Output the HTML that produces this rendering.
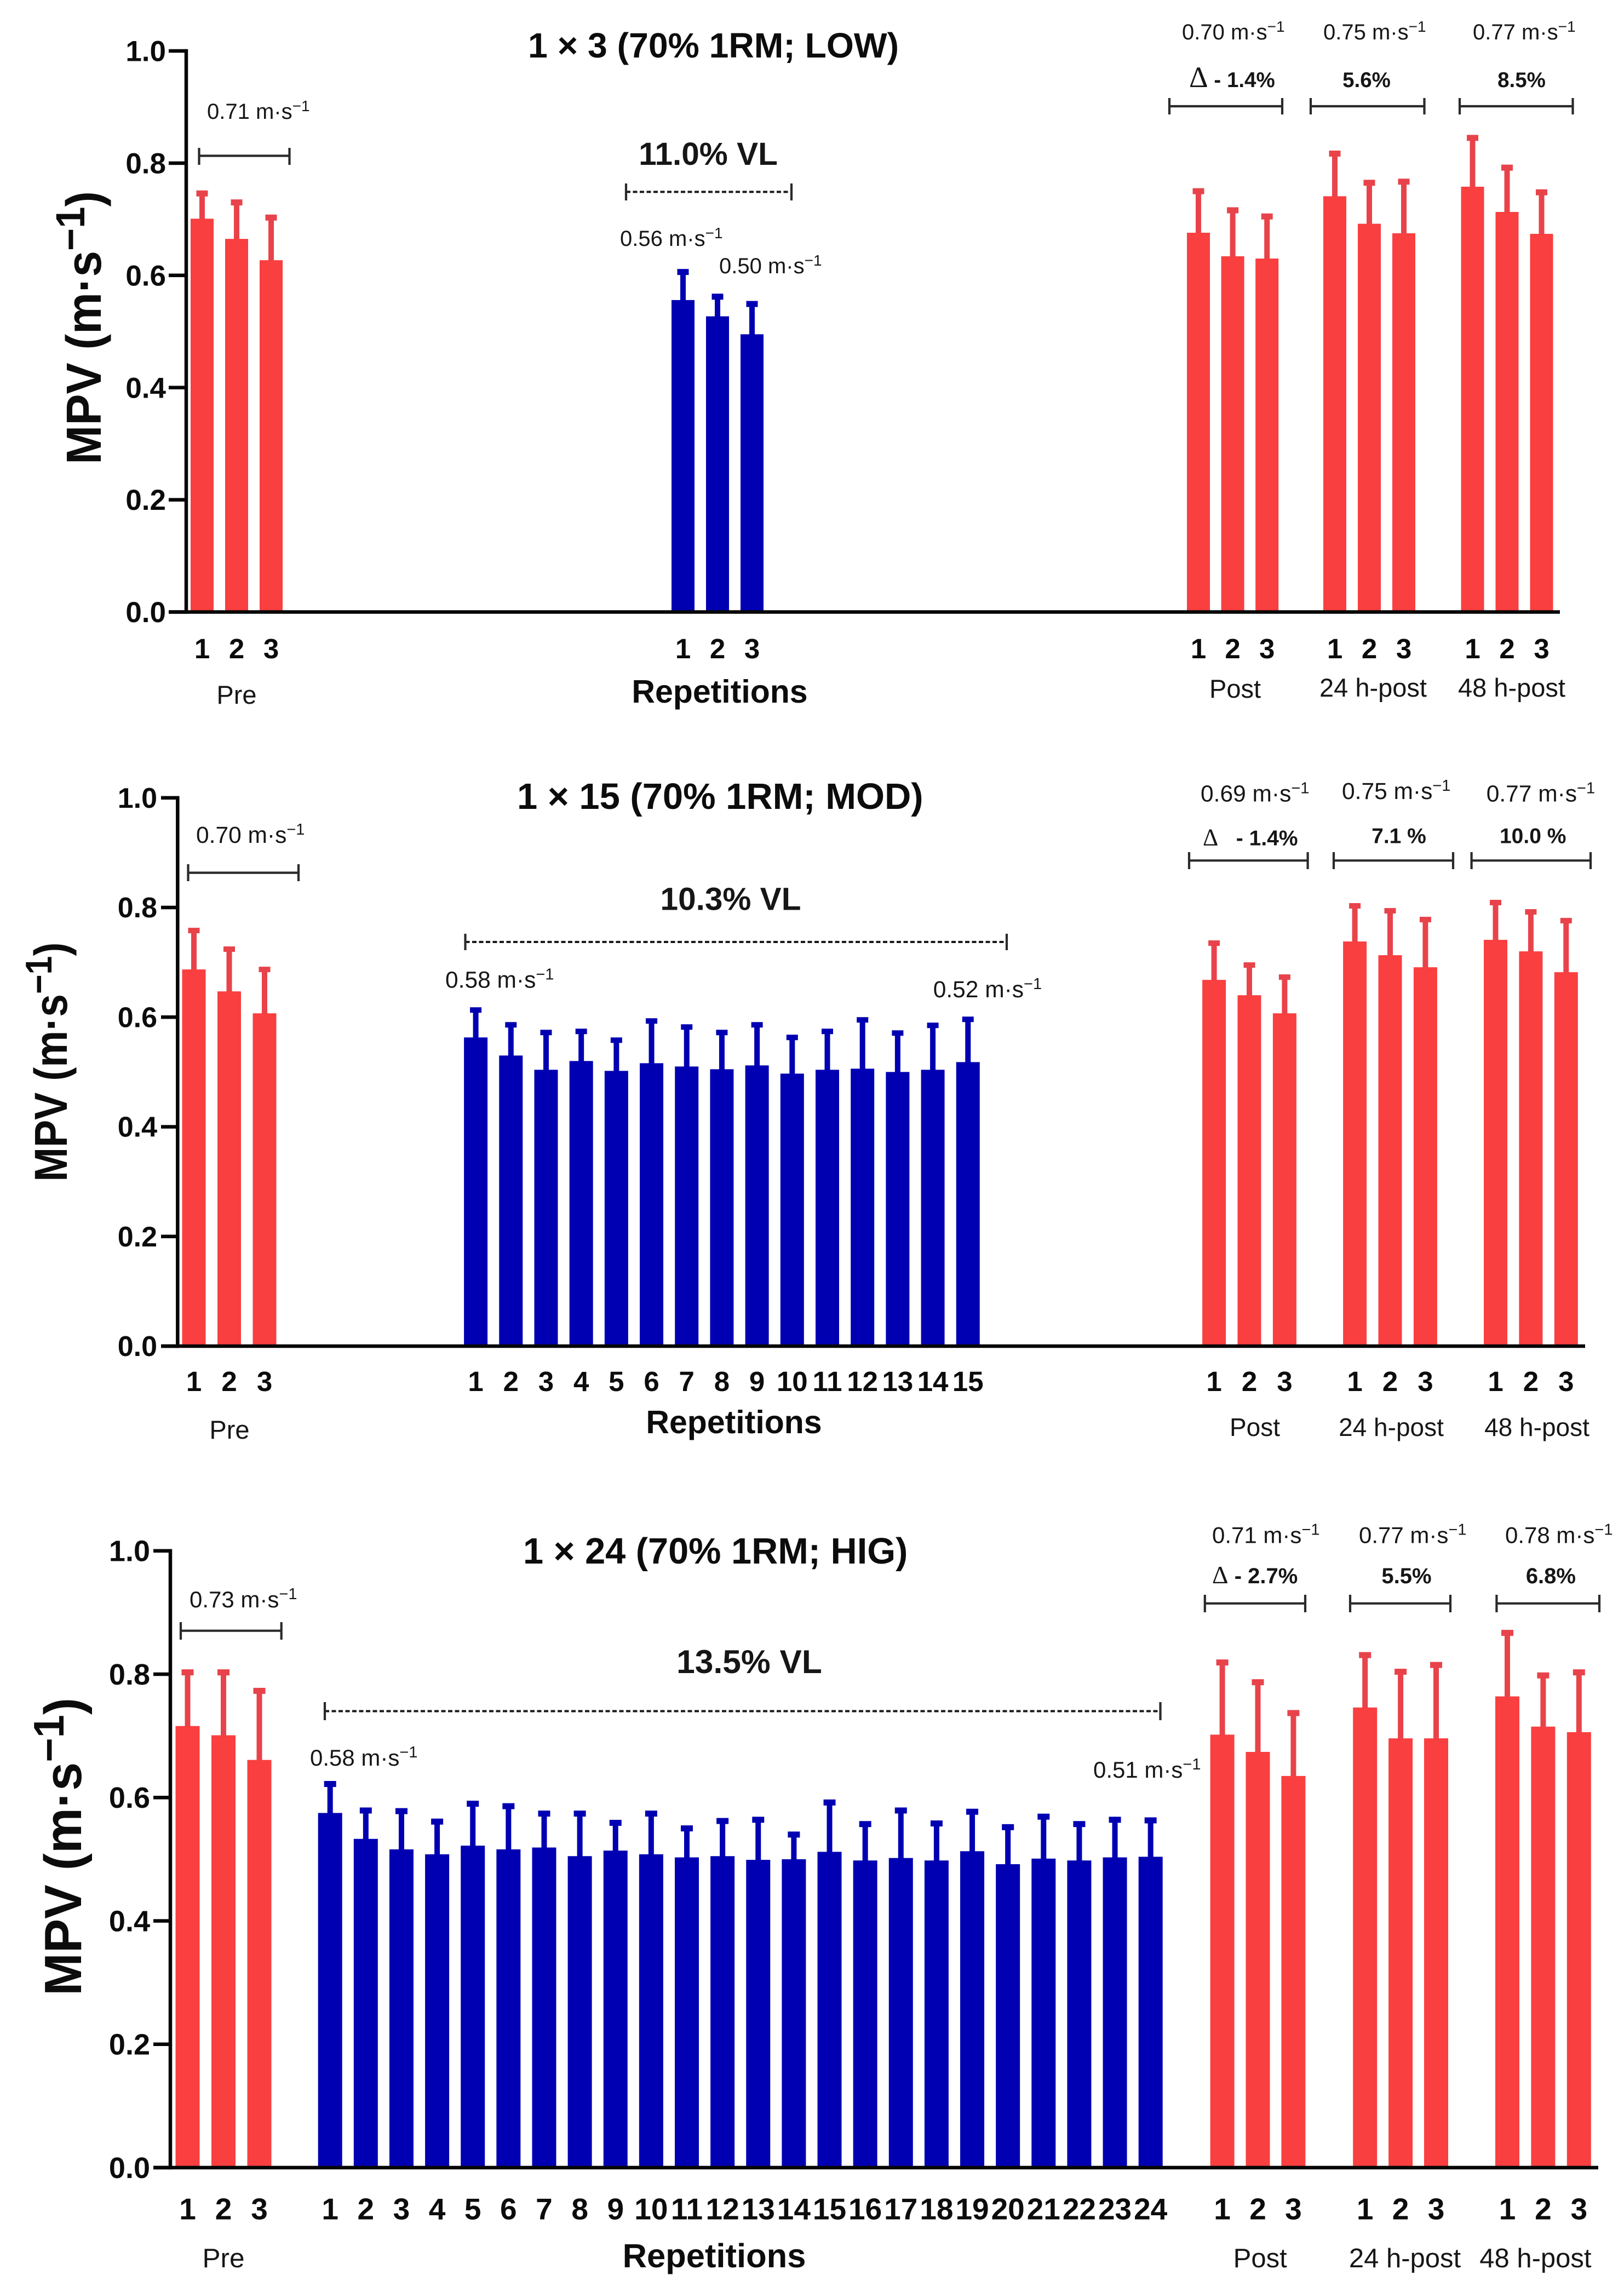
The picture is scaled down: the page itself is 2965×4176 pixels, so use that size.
<!DOCTYPE html>
<html lang="en">
<head>
<meta charset="utf-8">
<title>Mean propulsive velocity by protocol</title>
<style>
html,body{margin:0;padding:0;background:#fff}
svg{display:block}
text{font-family:"Liberation Sans",sans-serif;fill:#161616}
.t{font-weight:700;fill:#0c0c0c}
.b{font-weight:700}
.br{fill:none;stroke:#2a2a2a;stroke-width:4.2}
.dash{fill:none;stroke:#1a1a1a;stroke-width:4;stroke-dasharray:8 4.5}
.cap{fill:none;stroke:#2a2a2a;stroke-width:4.2}
</style>
</head>
<body>
<svg id="figure" width="2965" height="4176" viewBox="0 0 2965 4176" xmlns="http://www.w3.org/2000/svg">
<rect width="2965" height="4176" fill="#fff"/>

<!-- Panel 1 annotations -->
<g>
<text class="t" x="964" y="105" font-size="64.3">1 × 3 (70% 1RM; LOW)</text>
<text class="t" transform="translate(184 848) rotate(-90)" font-size="90" textLength="499" lengthAdjust="spacingAndGlyphs">MPV (m·s<tspan dy="-30" font-size="74">−1</tspan><tspan dy="30">)</tspan></text>
<text class="t" x="1314" y="1283" font-size="59" text-anchor="middle">Repetitions</text>
<text x="432" y="1285" font-size="47" text-anchor="middle">Pre</text>
<text x="2255" y="1274" font-size="47" text-anchor="middle">Post</text>
<text x="2507" y="1272" font-size="47" text-anchor="middle">24 h-post</text>
<text x="2760" y="1272" font-size="47" text-anchor="middle">48 h-post</text>
<text x="378" y="217" font-size="40">0.71 m·s<tspan dy="-14" font-size="28">−1</tspan></text>
<path class="br" d="M363.5 270V301M363.5 284.5H528.5M528.5 270V301"/>
<text class="b" x="1293" y="301" font-size="58.5" text-anchor="middle">11.0% VL</text>
<line class="dash" x1="1143" y1="350.4" x2="1445" y2="350.4"/>
<path class="cap" d="M1143 335V366M1445 335V366"/>
<text x="1132" y="449" font-size="40">0.56 m·s<tspan dy="-14" font-size="28">−1</tspan></text>
<text x="1313" y="499" font-size="40">0.50 m·s<tspan dy="-14" font-size="28">−1</tspan></text>
<text x="2158" y="72" font-size="40">0.70 m·s<tspan dy="-14" font-size="28">−1</tspan></text>
<text x="2416" y="72" font-size="40">0.75 m·s<tspan dy="-14" font-size="28">−1</tspan></text>
<text x="2689" y="72" font-size="40">0.77 m·s<tspan dy="-14" font-size="28">−1</tspan></text>
<text class="b" x="2171" y="159" font-size="38.5"><tspan font-family="Liberation Serif" font-weight="400" font-size="54">Δ</tspan> - 1.4%</text>
<text class="b" x="2495" y="159" font-size="38.5" text-anchor="middle">5.6%</text>
<text class="b" x="2778" y="159" font-size="38.5" text-anchor="middle">8.5%</text>
<path class="br" d="M2135 179V209M2135 194H2341M2341 179V209"/>
<path class="br" d="M2393 179V209M2393 194H2600.5M2600.5 179V209"/>
<path class="br" d="M2665 179V209M2665 194H2871.5M2871.5 179V209"/>
</g>

<!-- Panel 2 annotations -->
<g>
<text class="t" x="944" y="1477" font-size="66.9">1 × 15 (70% 1RM; MOD)</text>
<text class="t" transform="translate(122 2157.6) rotate(-90)" font-size="84" textLength="437" lengthAdjust="spacingAndGlyphs">MPV (m·s<tspan dy="-28" font-size="68">−1</tspan><tspan dy="28">)</tspan></text>
<text class="t" x="1340" y="2617" font-size="59" text-anchor="middle">Repetitions</text>
<text x="419" y="2627" font-size="47" text-anchor="middle">Pre</text>
<text x="2291" y="2622" font-size="46" text-anchor="middle">Post</text>
<text x="2540" y="2622" font-size="46" text-anchor="middle">24 h-post</text>
<text x="2806" y="2622" font-size="46" text-anchor="middle">48 h-post</text>
<text x="358" y="1539" font-size="42.5">0.70 m·s<tspan dy="-15" font-size="29">−1</tspan></text>
<path class="br" d="M343.5 1578V1609M343.5 1593.6H545M545 1578V1609"/>
<text class="b" x="1334" y="1661.7" font-size="58.5" text-anchor="middle">10.3% VL</text>
<line class="dash" x1="849.5" y1="1720" x2="1838" y2="1720"/>
<path class="cap" d="M849.5 1705V1735M1838 1705V1735"/>
<text x="813" y="1803.7" font-size="42.5">0.58 m·s<tspan dy="-15" font-size="29">−1</tspan></text>
<text x="1703.7" y="1821" font-size="42.5">0.52 m·s<tspan dy="-15" font-size="29">−1</tspan></text>
<text x="2192" y="1463.6" font-size="42.5">0.69 m·s<tspan dy="-15" font-size="29">−1</tspan></text>
<text x="2450" y="1459" font-size="42.5">0.75 m·s<tspan dy="-15" font-size="29">−1</tspan></text>
<text x="2713.7" y="1463.6" font-size="42.5">0.77 m·s<tspan dy="-15" font-size="29">−1</tspan></text>
<text class="b" x="2196" y="1543.7" font-size="39" xml:space="preserve"><tspan font-family="Liberation Serif" font-weight="400" font-size="44">Δ</tspan>   - 1.4%</text>
<text class="b" x="2554" y="1539.4" font-size="39" text-anchor="middle">7.1 %</text>
<text class="b" x="2798.7" y="1539.4" font-size="39" text-anchor="middle">10.0 %</text>
<path class="br" d="M2171 1556V1587M2171 1571.3H2387.6M2387.6 1556V1587"/>
<path class="br" d="M2435 1556V1587M2435 1571.3H2653M2653 1556V1587"/>
<path class="br" d="M2686.6 1556V1587M2686.6 1571.3H2904M2904 1556V1587"/>
</g>

<!-- Panel 3 annotations -->
<g>
<text class="t" x="955" y="2855" font-size="66.7">1 × 24 (70% 1RM; HIG)</text>
<text class="t" transform="translate(148 3644) rotate(-90)" font-size="96" textLength="544" lengthAdjust="spacingAndGlyphs">MPV (m·s<tspan dy="-32" font-size="78">−1</tspan><tspan dy="32">)</tspan></text>
<text class="t" x="1304" y="4140" font-size="61.5" text-anchor="middle">Repetitions</text>
<text x="408" y="4140" font-size="49.5" text-anchor="middle">Pre</text>
<text x="2300.7" y="4140" font-size="49" text-anchor="middle">Post</text>
<text x="2565" y="4140" font-size="49" text-anchor="middle">24 h-post</text>
<text x="2803.4" y="4140" font-size="49" text-anchor="middle">48 h-post</text>
<text x="346" y="2935" font-size="42">0.73 m·s<tspan dy="-15" font-size="29">−1</tspan></text>
<path class="br" d="M330 2962V2994M330 2977.7H513.7M513.7 2962V2994"/>
<text class="b" x="1368" y="3055" font-size="60.5" text-anchor="middle">13.5% VL</text>
<line class="dash" x1="593" y1="3124.5" x2="2118.5" y2="3124.5"/>
<path class="cap" d="M593 3108V3141M2118.5 3108V3141"/>
<text x="566" y="3224" font-size="42">0.58 m·s<tspan dy="-15" font-size="29">−1</tspan></text>
<text x="1996" y="3246" font-size="42">0.51 m·s<tspan dy="-15" font-size="29">−1</tspan></text>
<text x="2213" y="2817.7" font-size="42">0.71 m·s<tspan dy="-15" font-size="29">−1</tspan></text>
<text x="2481" y="2817.7" font-size="42">0.77 m·s<tspan dy="-15" font-size="29">−1</tspan></text>
<text x="2748" y="2817.7" font-size="42">0.78 m·s<tspan dy="-15" font-size="29">−1</tspan></text>
<text class="b" x="2213" y="2891" font-size="40"><tspan font-family="Liberation Serif" font-weight="400" font-size="46">Δ</tspan> - 2.7%</text>
<text class="b" x="2568" y="2891" font-size="40" text-anchor="middle">5.5%</text>
<text class="b" x="2831.4" y="2891" font-size="40" text-anchor="middle">6.8%</text>
<path class="br" d="M2199.8 2912V2944M2199.8 2927.8H2383M2383 2912V2944"/>
<path class="br" d="M2465 2912V2944M2465 2927.8H2648M2648 2912V2944"/>
<path class="br" d="M2732.4 2912V2944M2732.4 2927.8H2920M2920 2912V2944"/>
</g>
</svg>

<script>
// ---------- data ----------
const yTickValues = [0, 0.2, 0.4, 0.6, 0.8, 1.0];
const yTickLabels = ['0.0', '0.2', '0.4', '0.6', '0.8', '1.0'];
const setLabels = ['1', '2', '3'];
const rep15Labels = ['1','2','3','4','5','6','7','8','9','10','11','12','13','14','15'];
const rep24Labels = ['1','2','3','4','5','6','7','8','9','10','11','12','13','14','15','16','17','18','19','20','21','22','23','24'];

// LOW (1 x 3)
const lowPreMean = [0.701, 0.665, 0.627];
const lowPreUpper = [0.746, 0.730, 0.703];
const lowRepMean = [0.556, 0.527, 0.495];
const lowRepUpper = [0.606, 0.562, 0.549];
const lowPostMean = [0.676, 0.634, 0.630];
const lowPostUpper = [0.750, 0.716, 0.705];
const low24Mean = [0.741, 0.692, 0.675];
const low24Upper = [0.817, 0.765, 0.767];
const low48Mean = [0.758, 0.713, 0.674];
const low48Upper = [0.845, 0.792, 0.748];

// MOD (1 x 15)
const modPreMean = [0.687, 0.647, 0.607];
const modPreUpper = [0.758, 0.724, 0.687];
const modRepMean = [0.563, 0.530, 0.504, 0.520, 0.502, 0.516, 0.510, 0.505, 0.512, 0.497, 0.504, 0.506, 0.500, 0.504, 0.518];
const modRepUpper = [0.613, 0.586, 0.572, 0.574, 0.558, 0.593, 0.582, 0.572, 0.586, 0.563, 0.574, 0.595, 0.571, 0.585, 0.596];
const modPostMean = [0.668, 0.640, 0.607];
const modPostUpper = [0.735, 0.695, 0.673];
const mod24Mean = [0.738, 0.713, 0.691];
const mod24Upper = [0.803, 0.794, 0.778];
const mod48Mean = [0.741, 0.720, 0.682];
const mod48Upper = [0.809, 0.792, 0.776];

// HIG (1 x 24)
const higPreMean = [0.716, 0.701, 0.661];
const higPreUpper = [0.803, 0.803, 0.773];
const higRepMean = [0.575, 0.533, 0.516, 0.508, 0.522, 0.516, 0.519, 0.505, 0.514, 0.508, 0.503, 0.505, 0.499, 0.500, 0.512, 0.498, 0.502, 0.498, 0.513, 0.492, 0.501, 0.498, 0.503, 0.504];
const higRepUpper = [0.622, 0.579, 0.578, 0.561, 0.590, 0.586, 0.574, 0.574, 0.559, 0.574, 0.550, 0.562, 0.564, 0.540, 0.592, 0.557, 0.579, 0.558, 0.577, 0.552, 0.569, 0.557, 0.564, 0.563];
const higPostMean = [0.702, 0.674, 0.635];
const higPostUpper = [0.819, 0.787, 0.737];
const hig24Mean = [0.746, 0.696, 0.696];
const hig24Upper = [0.831, 0.804, 0.815];
const hig48Mean = [0.764, 0.715, 0.706];
const hig48Upper = [0.867, 0.798, 0.803];

// ---------- layout ----------
const RED = '#f93f40';
const RED_ERR = '#e8434a';
const BLUE = '#0000b2';
const SVG_NS = 'http://www.w3.org/2000/svg';
const figure = document.getElementById('figure');

const panels = [
  { id:'low', axisX:340, axisEnd:2848, tickStart:308, yTop:93, yBase:1117.5, labelRight:303, tickFont:53, numY:1202, numFont:51, barW:42, stem:10, capW:21, capH:11,
    groups:[
      { id:'pre', mean:lowPreMean, upper:lowPreUpper, labels:setLabels, color:RED, errColor:RED_ERR, x0:369, step:63 },
      { id:'rep', mean:lowRepMean, upper:lowRepUpper, labels:setLabels, color:BLUE, errColor:BLUE, x0:1247, step:63 },
      { id:'post', mean:lowPostMean, upper:lowPostUpper, labels:setLabels, color:RED, errColor:RED_ERR, x0:2188, step:62.6 },
      { id:'24h', mean:low24Mean, upper:low24Upper, labels:setLabels, color:RED, errColor:RED_ERR, x0:2437, step:63 },
      { id:'48h', mean:low48Mean, upper:low48Upper, labels:setLabels, color:RED, errColor:RED_ERR, x0:2688.5, step:63 }
    ] },
  { id:'mod', axisX:324.3, axisEnd:2894, tickStart:294, yTop:1456.8, yBase:2458, labelRight:287, tickFont:52, numY:2540, numFont:51, barW:43, stem:10, capW:21, capH:10,
    groups:[
      { id:'pre', mean:modPreMean, upper:modPreUpper, labels:setLabels, color:RED, errColor:RED_ERR, x0:354, step:64.5 },
      { id:'rep', mean:modRepMean, upper:modRepUpper, labels:rep15Labels, color:BLUE, errColor:BLUE, x0:868.6, step:64.19 },
      { id:'post', mean:modPostMean, upper:modPostUpper, labels:setLabels, color:RED, errColor:RED_ERR, x0:2216.6, step:64.4 },
      { id:'24h', mean:mod24Mean, upper:mod24Upper, labels:setLabels, color:RED, errColor:RED_ERR, x0:2473.6, step:64.4 },
      { id:'48h', mean:mod48Mean, upper:mod48Upper, labels:setLabels, color:RED, errColor:RED_ERR, x0:2730.5, step:64.4 }
    ] },
  { id:'hig', axisX:311, axisEnd:2918, tickStart:280, yTop:2831.8, yBase:3958, labelRight:274, tickFont:54, numY:4052.7, numFont:55, barW:44, stem:10, capW:22, capH:11,
    groups:[
      { id:'pre', mean:higPreMean, upper:higPreUpper, labels:setLabels, color:RED, errColor:RED_ERR, x0:342.5, step:65.5 },
      { id:'rep', mean:higRepMean, upper:higRepUpper, labels:rep24Labels, color:BLUE, errColor:BLUE, x0:602.7, step:65.13 },
      { id:'post', mean:higPostMean, upper:higPostUpper, labels:setLabels, color:RED, errColor:RED_ERR, x0:2231.6, step:64.9 },
      { id:'24h', mean:hig24Mean, upper:hig24Upper, labels:setLabels, color:RED, errColor:RED_ERR, x0:2492.2, step:64.9 },
      { id:'48h', mean:hig48Mean, upper:hig48Upper, labels:setLabels, color:RED, errColor:RED_ERR, x0:2752, step:65.4 }
    ] }
];

function shape(tag, parent) {
  const el = document.createElementNS(SVG_NS, tag);
  parent.appendChild(el);
  return el;
}

function drawRect(parent, x, y, w, h, fill) {
  const r = shape('rect', parent);
  r.setAttribute('x', x);
  r.setAttribute('y', y);
  r.setAttribute('width', w);
  r.setAttribute('height', h);
  r.setAttribute('fill', fill);
  return r;
}

function drawPanel(p) {
  const yScale = v => p.yBase + (p.yTop - p.yBase) * v;

  const layer = shape('g', figure);
  
  

  // bars and error bars
  p.groups.forEach(g => {
    const xScale = i => g.x0 + i * g.step;
    g.mean.forEach((v, i) => {
      const cx = xScale(i);
      const top = yScale(v);
      const errTop = yScale(g.upper[i]);

      const stem = drawRect(layer, cx - p.stem / 2, errTop, p.stem, top - errTop + 1, g.errColor);
      
      

      const cap = drawRect(layer, cx - p.capW / 2, errTop - p.capH / 2, p.capW, p.capH, g.errColor);
      
      

      const bar = drawRect(layer, cx - p.barW / 2, top, p.barW, p.yBase - top, g.color);
      
      

      const label = shape('text', layer);
      
      
      label.setAttribute('x', cx);
      label.setAttribute('y', p.numY);
      label.setAttribute('text-anchor', 'middle');
      label.setAttribute('font-size', p.numFont);
      label.setAttribute('font-weight', '700');
      label.setAttribute('class', 't');
      label.textContent = g.labels[i];
    });
  });

  // axes
  const xAxis = drawRect(layer, p.tickStart, p.yBase - 3.25, p.axisEnd - p.tickStart, 6.5, '#060606');
  
  

  const yAxis = drawRect(layer, p.axisX - 3.25, p.yTop - 3.25, 6.5, p.yBase - p.yTop + 6.5, '#060606');
  
  

  yTickValues.forEach((v, i) => {
    const y = yScale(v);

    const tick = drawRect(layer, p.tickStart, y - 3.25, p.axisX - p.tickStart, 6.5, '#060606');
    
    

    const label = shape('text', layer);
    
    
    label.setAttribute('x', p.labelRight);
    label.setAttribute('y', y + p.tickFont * 0.35);
    label.setAttribute('text-anchor', 'end');
    label.setAttribute('font-size', p.tickFont);
    label.setAttribute('font-weight', '700');
    label.setAttribute('class', 't');
    label.textContent = yTickLabels[i];
  });
}

panels.forEach(drawPanel);
</script>
</body>
</html>
